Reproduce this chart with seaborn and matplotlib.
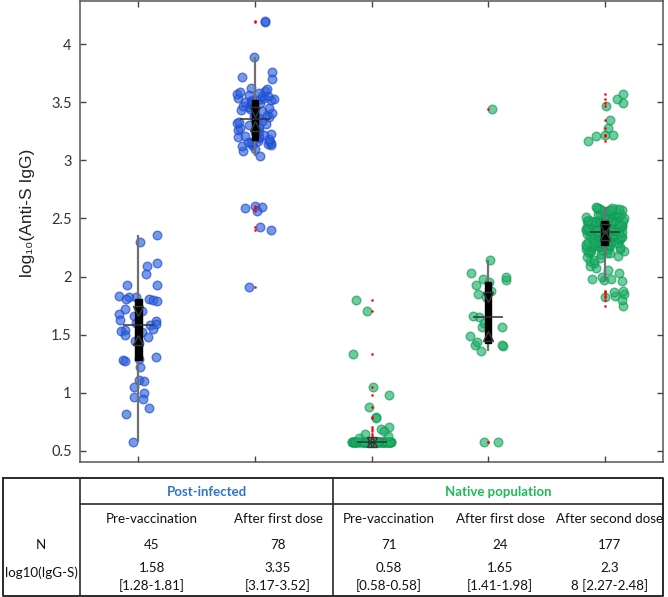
import matplotlib
matplotlib.use("Agg")
import matplotlib.pyplot as plt
import numpy as np
import pandas as pd
import seaborn as sns

# ---- data ----
groups = ["Post pre", "Post first", "Native pre", "Native first", "Native second"]
cohorts = ["Post-infected", "Post-infected", "Native population", "Native population", "Native population"]

post_pre = [2.36, 2.30, 2.12, 2.09, 2.02, 1.93, 1.93, 1.83, 1.82, 1.82, 1.81, 1.81, 1.80, 1.79,
            1.72, 1.70, 1.68, 1.66, 1.63, 1.62, 1.60, 1.59, 1.58, 1.55, 1.54, 1.53, 1.52, 1.50,
            1.48, 1.45, 1.43, 1.31, 1.29, 1.28, 1.27, 1.22, 1.11, 1.10, 1.05, 1.00, 0.96, 0.95,
            0.87, 0.82, 0.58]

post_first = [2.61, 2.60, 2.59, 2.56, 2.43, 2.40, 1.91,
              3.04, 3.08, 3.10, 3.12, 3.13, 3.13, 3.14, 3.15, 3.15, 3.16, 3.16, 3.17, 3.17,
              3.18, 3.19, 3.20, 3.20, 3.21, 3.22, 3.23, 3.24, 3.25, 3.26, 3.27, 3.28, 3.29,
              3.30, 3.31, 3.32, 3.33, 3.34, 3.35,
              3.36, 3.37, 3.38, 3.39, 3.40, 3.41, 3.42, 3.43, 3.44, 3.45, 3.46, 3.47, 3.48,
              3.48, 3.49, 3.50, 3.50, 3.51, 3.52, 3.52,
              3.53, 3.53, 3.54, 3.54, 3.55, 3.55, 3.56, 3.57, 3.58, 3.59, 3.60, 3.61, 3.62,
              3.70, 3.72, 3.76, 3.89, 4.19, 4.20]

native_pre = [0.58] * 57 + [1.80, 1.70, 1.33, 1.05, 0.98, 0.88, 0.79, 0.78, 0.71, 0.69,
                            0.67, 0.65, 0.63, 0.61]

native_first = [0.58, 0.58, 1.36, 1.40, 1.41, 1.41, 1.44, 1.49, 1.57, 1.57, 1.60, 1.65,
                1.66, 1.82, 1.85, 1.88, 1.93, 1.95, 1.97, 1.98, 2.00, 2.03, 2.14, 3.44]

native_second = [1.75, 1.80, 1.82, 1.83, 1.85, 1.87, 1.88,
                 1.96, 1.97, 1.98, 1.98, 2.00, 2.03, 2.06, 2.07, 2.09, 2.12, 2.13, 2.14, 2.16,
                 2.17, 2.18, 2.19, 2.20, 2.20, 2.21, 2.21, 2.22, 2.22, 2.23, 2.23, 2.24, 2.24,
                 2.24, 2.25, 2.25, 2.25, 2.26, 2.26, 2.26, 2.26, 2.27, 2.27, 2.27,
                 2.27, 2.28, 2.28, 2.28, 2.29, 2.29, 2.29, 2.30, 2.30, 2.30, 2.31, 2.31, 2.31,
                 2.31, 2.32, 2.32, 2.32, 2.32, 2.33, 2.33, 2.33, 2.33, 2.34, 2.34, 2.34, 2.34,
                 2.35, 2.35, 2.35, 2.35, 2.36, 2.36, 2.36, 2.36, 2.37, 2.37, 2.37, 2.37, 2.37,
                 2.38, 2.38, 2.38, 2.38, 2.38,
                 2.38, 2.39, 2.39, 2.39, 2.39, 2.40, 2.40, 2.40, 2.40, 2.41, 2.41, 2.41, 2.41,
                 2.42, 2.42, 2.42, 2.42, 2.43, 2.43, 2.43, 2.43, 2.44, 2.44, 2.44, 2.44, 2.45,
                 2.45, 2.45, 2.45, 2.46, 2.46, 2.46, 2.46, 2.47, 2.47, 2.47, 2.47, 2.47, 2.48,
                 2.48, 2.48, 2.48, 2.48, 2.48, 2.48,
                 2.49, 2.49, 2.49, 2.50, 2.50, 2.50, 2.51, 2.51, 2.51, 2.52, 2.52, 2.52, 2.53,
                 2.53, 2.53, 2.54, 2.54, 2.54, 2.55, 2.55, 2.55, 2.56, 2.56, 2.56, 2.57, 2.57,
                 2.57, 2.58, 2.58, 2.58, 2.59, 2.59, 2.59, 2.60,
                 3.17, 3.21, 3.22, 3.22, 3.28, 3.35, 3.47, 3.49, 3.53, 3.57]

# table contents
col_labels = ["Pre-vaccination", "After first dose", "Pre-vaccination", "After first dose",
              "After second dose"]
n_labels = ["45", "78", "71", "24", "177"]
med_labels = ["1.58", "3.35", "0.58", "1.65", "2.3"]
iqr_labels = ["[1.28-1.81]", "[3.17-3.52]", "[0.58-0.58]", "[1.41-1.98]", "8 [2.27-2.48]"]

palette = {"Post-infected": "#2f62dc", "Native population": "#1fb26a"}
edges = {"Post-infected": "#1c48cf", "Native population": "#129a55"}

rows = []
for g, c, vals in zip(groups, cohorts, [post_pre, post_first, native_pre, native_first, native_second]):
    for v in vals:
        rows.append({"group": g, "cohort": c, "value": v})
df = pd.DataFrame(rows)


def notch_hi(v):
    q1, med, q3 = np.percentile(v, [25, 50, 75])
    return med + 1.57 * (q3 - q1) / np.sqrt(len(v))


def notch_lo(v):
    q1, med, q3 = np.percentile(v, [25, 50, 75])
    return med - 1.57 * (q3 - q1) / np.sqrt(len(v))


sns.set_style("white")
plt.rcParams["font.family"] = ["Lato", "DejaVu Sans"]

W, H = 668, 597
fig = plt.figure(figsize=(W / 100, H / 100), dpi=100)
ax = fig.add_axes([80 / W, 1 - 462 / H, (663 - 80) / W, (462 - 1) / H])

np.random.seed(4)
for cohort in ["Post-infected", "Native population"]:
    sub = df[df["cohort"] == cohort]
    sns.stripplot(data=sub, x="group", y="value", order=groups, color=palette[cohort],
                  jitter=0.17, size=6.2, alpha=0.65, edgecolor=edges[cohort], linewidth=1.0,
                  ax=ax, zorder=2)

sns.boxplot(data=df, x="group", y="value", order=groups, width=0.055, whis=1.5,
            color="black", linecolor="black", showcaps=False, ax=ax,
            boxprops=dict(facecolor="black", edgecolor="black", zorder=3),
            whiskerprops=dict(color="#707070", linewidth=1.6),
            medianprops=dict(color="black", linewidth=1),
            flierprops=dict(marker=".", markersize=2.0, markerfacecolor="red",
                            markeredgecolor="red", alpha=0.8))

sns.pointplot(data=df, x="group", y="value", order=groups, estimator="median", errorbar=None,
              markers="_", markersize=22, markeredgewidth=1.1, linestyle="none",
              color="#333333", ax=ax, zorder=6)

# notch markers (open triangles)
for est, mk in [(notch_hi, "v"), (notch_lo, "^")]:
    sns.pointplot(data=df, x="group", y="value", order=groups, estimator=est, errorbar=None,
                  markers=mk, markersize=7, markeredgewidth=1.0, markerfacecolor="none",
                  linestyle="none", color="#3a3a3a", ax=ax, zorder=6)

ax.set_xlim(-0.5, 4.5)
ax.set_ylim(0.405, 4.37)
ax.set_yticks([0.5, 1, 1.5, 2, 2.5, 3, 3.5, 4])
ax.set_yticklabels(["0.5", "1", "1.5", "2", "2.5", "3", "3.5", "4"], fontsize=10.5, color="#333333")
ax.set_xticks(range(5))
ax.set_xticklabels([])
ax.set_xlabel("")
ax.set_ylabel("log\u2081\u2080(Anti-S IgG)", fontsize=12.5, family=["Liberation Sans", "DejaVu Sans"],
              color="#222222")
ax.yaxis.set_label_coords(-(80 - 35) / 583, 0.54)
ax.tick_params(direction="in", length=4, width=1, color="#444444", top=True, right=True,
               bottom=True, left=True, pad=6)
for s in ax.spines.values():
    s.set_color("#555555")
    s.set_linewidth(1.1)

# ---- summary table below the plot (pixel coords) ----
tax = fig.add_axes([0, 0, 1, 1])
tax.set_xlim(0, W)
tax.set_ylim(H, 0)
tax.axis("off")
lc = "#2a2a2a"
tax.plot([3, 663, 663, 3, 3], [478, 478, 596, 596, 478], color=lc, lw=1.4, clip_on=False)
tax.plot([80, 80], [478, 596], color=lc, lw=1.2)
tax.plot([333, 333], [478, 596], color=lc, lw=1.2)
tax.plot([80, 663], [504, 504], color=lc, lw=1.2)

tax.text(207, 492, "Post-infected", ha="center", va="center", fontsize=9.5, weight="bold",
         color="#2e75c6")
tax.text(498, 492, "Native population", ha="center", va="center", fontsize=9.5, weight="bold",
         color="#1db954")

col_x = [152, 278, 389, 500, 610]
for x, lab, n, med, iqr in zip(col_x, col_labels, n_labels, med_labels, iqr_labels):
    tax.text(x, 519, lab, ha="center", va="center", fontsize=9.6, color="#111111")
    tax.text(x, 545, n, ha="center", va="center", fontsize=9.6, color="#111111")
    tax.text(x, 568, med, ha="center", va="center", fontsize=9.6, color="#111111")
    tax.text(x, 586, iqr, ha="center", va="center", fontsize=9.6, color="#111111")
tax.text(41, 545, "N", ha="center", va="center", fontsize=9.6, color="#111111")
tax.text(41, 573, "log10(IgG-S)", ha="center", va="center", fontsize=9.6, color="#111111")

fig.savefig("out.png", dpi=100)
